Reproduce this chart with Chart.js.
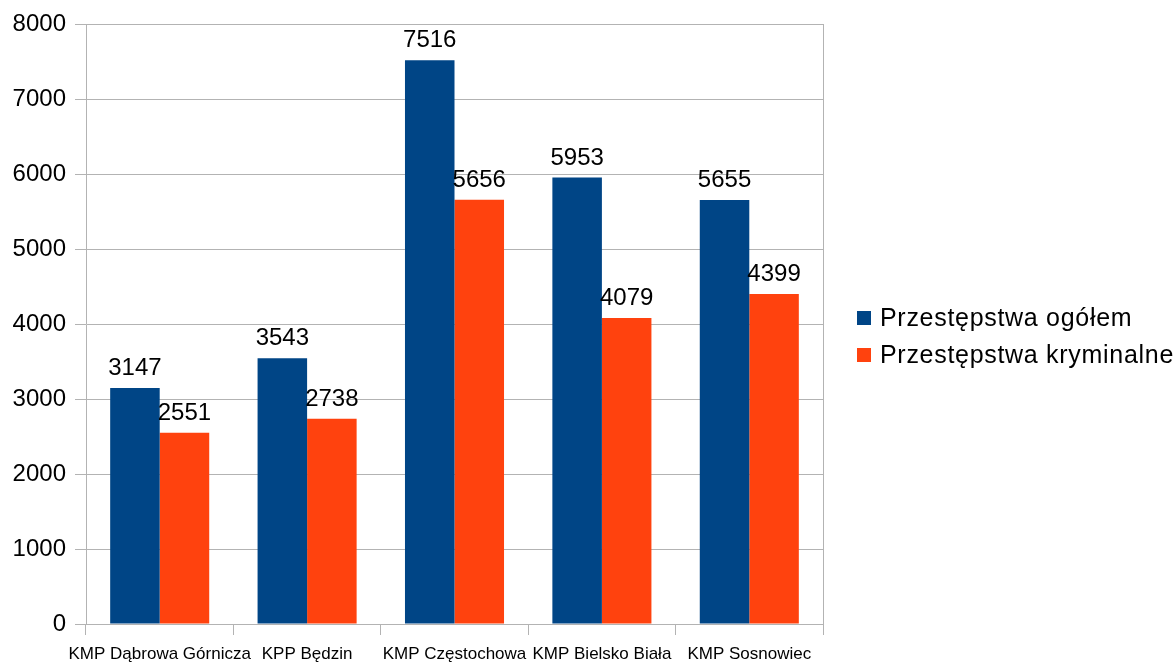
<!DOCTYPE html>
<html>
<head>
<meta charset="utf-8">
<script src="https://cdn.jsdelivr.net/npm/chart.js@4"></script>
<style>
html,body{margin:0;padding:0;background:#fff;}
#wrap{width:1176px;height:662px;}
</style>
</head>
<body>
<div id="wrap"><canvas id="c" width="1176" height="662"></canvas></div>
<script>
const categories = ["KMP Dąbrowa Górnicza", "KPP Będzin", "KMP Częstochowa", "KMP Bielsko Biała", "KMP Sosnowiec"];
const seriesNames = ["Przestępstwa ogółem", "Przestępstwa kryminalne"];
const ogolem = [3147, 3543, 7516, 5953, 5655];
const kryminalne = [2551, 2738, 5656, 4079, 4399];
const colors = ["#004586", "#ff420e"];
const yMin = 0, yMax = 8000, yStep = 1000;

const FONT = "'Liberation Sans', Arial, sans-serif";
const GRID = "#b3b3b3";

const extras = {
  id: 'extras',
  afterDatasetsDraw(chart) {
    const ctx = chart.ctx;
    ctx.save();
    ctx.font = "24px " + FONT;
    ctx.fillStyle = "#000";
    ctx.textAlign = "center";
    ctx.textBaseline = "alphabetic";
    chart.data.datasets.forEach((ds, i) => {
      const meta = chart.getDatasetMeta(i);
      meta.data.forEach((el, j) => {
        ctx.fillText(String(ds.data[j]), el.x, el.y - 13);
      });
    });
    // right border
    const a = chart.chartArea;
    ctx.strokeStyle = GRID;
    ctx.lineWidth = 1;
    ctx.beginPath();
    ctx.moveTo(Math.round(a.right) + 0.5, a.top);
    ctx.lineTo(Math.round(a.right) + 0.5, a.bottom);
    ctx.stroke();
    // legend
    ctx.textAlign = "left";
    ctx.textBaseline = "middle";
    ctx.font = "25px " + FONT;
    try { ctx.letterSpacing = "0.7px"; } catch (e) {}
    const lx = 857, ly = [318, 355];
    seriesNames.forEach((n, i) => {
      ctx.fillStyle = colors[i];
      ctx.fillRect(lx, ly[i] - 7, 14, 14);
      ctx.fillStyle = "#000";
      ctx.fillText(n, lx + 23, ly[i] + 1);
    });
    ctx.restore();
  }
};

new Chart(document.getElementById('c'), {
  type: 'bar',
  data: {
    labels: categories,
    datasets: [
      { label: seriesNames[0], data: ogolem, backgroundColor: colors[0], borderWidth: 0 },
      { label: seriesNames[1], data: kryminalne, backgroundColor: colors[1], borderWidth: 0 }
    ]
  },
  options: {
    responsive: false,
    animation: false,
    devicePixelRatio: 1,
    layout: { padding: { top: 24, right: 353, left: 0, bottom: 0 } },
    datasets: { bar: { categoryPercentage: 0.672, barPercentage: 1.0 } },
    plugins: { legend: { display: false }, tooltip: { enabled: false } },
    scales: {
      x: {
        offset: true,
        grid: { offset: true, drawOnChartArea: false, drawTicks: true, tickLength: 11, color: GRID },
        border: { display: true, color: GRID },
        ticks: { color: "#000", font: { family: FONT, size: 17 }, padding: 9, maxRotation: 0, autoSkip: false },
        afterFit(s) { s.height = 38; }
      },
      y: {
        min: yMin, max: yMax,
        grid: { color: GRID, tickLength: 11 },
        border: { display: true, color: GRID },
        ticks: { stepSize: yStep, color: "#000", font: { family: FONT, size: 24 }, padding: 9,
                 callback: (v) => String(v) },
        afterFit(s) { s.width = 86; }
      }
    }
  },
  plugins: [extras]
});
</script>
</body>
</html>
